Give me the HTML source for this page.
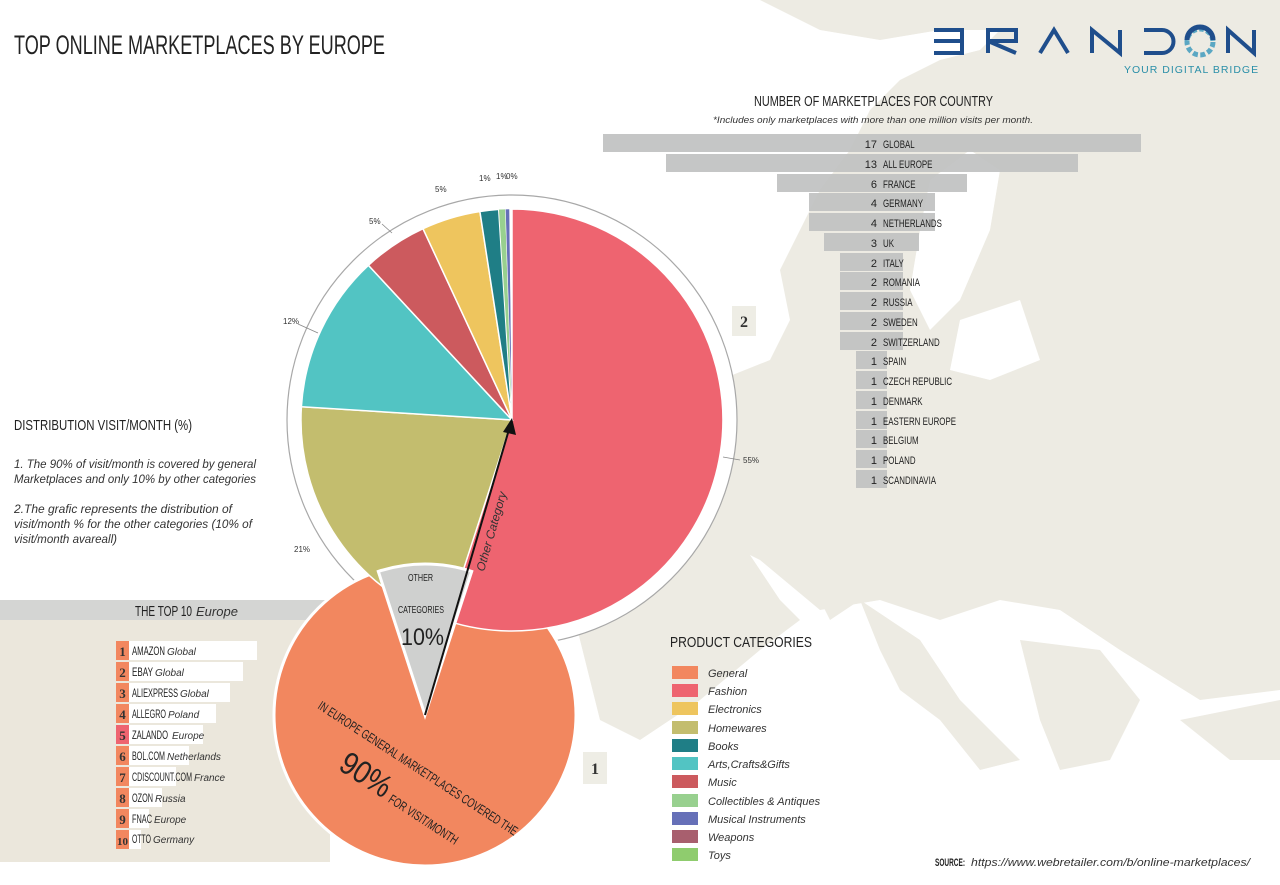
<!DOCTYPE html>
<html><head><meta charset="utf-8"><style>
html,body{margin:0;padding:0;background:#fff}
svg{display:block}
.h{font-family:"Liberation Sans Narrow","Liberation Sans",sans-serif;fill:#222}
.i{font-family:"Liberation Sans",sans-serif;font-style:italic;fill:#333}
.s{font-family:"Liberation Sans",sans-serif;fill:#333}
.r{font-family:"Liberation Serif",serif;font-weight:bold;fill:#333}
</style></head><body>
<svg width="1280" height="885" viewBox="0 0 1280 885" xmlns="http://www.w3.org/2000/svg">
<rect width="1280" height="885" fill="#fff"/>
<g fill="#edebe3">
<polygon points="760,0 1280,0 1280,690 1200,700 1120,650 1060,610 1000,600 940,620 880,600 820,610 760,560 720,540 690,480 650,440 690,420 720,380 770,360 790,320 780,270 800,230 820,190 850,150 870,110 900,80 940,60 980,50 1000,30 940,30 880,40 820,30"/>
<polygon points="560,470 600,440 650,450 700,480 740,540 780,600 800,620 760,650 700,700 640,740 600,720 580,640 560,560"/>
<polygon points="860,600 920,640 960,700 1000,740 1020,760 980,770 940,720 900,690 880,650"/>
<polygon points="1020,640 1100,650 1140,700 1110,760 1060,770 1040,720"/>
<polygon points="1180,720 1280,700 1280,760 1230,760"/>
<polygon points="820,540 850,540 860,600 830,620 810,580"/>
</g>
<g fill="#fff">
<polygon points="930,180 970,150 1000,170 990,230 960,300 930,330 910,290 920,230"/>
<polygon points="960,320 1020,300 1040,360 990,380 950,370"/>
</g>
<text x="14" y="54" class="h" font-size="27" textLength="371" lengthAdjust="spacingAndGlyphs">TOP ONLINE MARKETPLACES BY EUROPE</text>
<g fill="none" stroke="#1f4e8c" stroke-width="4">
<path d="M934,30 h28 v11 h-28 M962,41 v12 h-28"/>
<path d="M988,53 V30 h28 v11 h-28 l28,12"/>
<path d="M1040,53 L1054,30 L1068,53"/>
<path d="M1092,53 V30 L1120,53 V30"/>
<path d="M1144,30 h18 a11.5 11.5 0 0 1 0 23 h-18"/>
<path d="M1228,53 V30 L1254,53 V30"/>
</g>
<circle cx="1200" cy="42" r="13" fill="none" stroke="#5aa7c3" stroke-width="5" stroke-dasharray="5 2.5"/>
<path d="M1187,40 a13 13 0 0 1 26 0" fill="none" stroke="#1f4e8c" stroke-width="5"/>
<text x="1124" y="73" font-family="Liberation Sans,sans-serif" font-size="10.5" fill="#2a8fa8" letter-spacing="1">YOUR DIGITAL BRIDGE</text>
<text x="754" y="106" class="h" font-size="15" textLength="239" lengthAdjust="spacingAndGlyphs">NUMBER OF MARKETPLACES FOR COUNTRY</text>
<text x="713" y="123" class="i" font-size="9.5" textLength="320" lengthAdjust="spacingAndGlyphs">*Includes only marketplaces with more than one million visits per month.</text>
<g fill="#c2c3c3" opacity="0.95">
<rect x="603" y="134" width="538" height="18"/>
<rect x="666" y="154" width="412" height="18"/>
<rect x="777" y="174" width="190" height="18"/>
<rect x="809" y="193" width="126" height="18"/>
<rect x="809" y="213" width="126" height="18"/>
<rect x="824" y="233" width="95" height="18"/>
<rect x="840" y="253" width="63" height="18"/>
<rect x="840" y="272" width="63" height="18"/>
<rect x="840" y="292" width="63" height="18"/>
<rect x="840" y="312" width="63" height="18"/>
<rect x="840" y="332" width="63" height="18"/>
<rect x="856" y="351" width="31" height="18"/>
<rect x="856" y="371" width="31" height="18"/>
<rect x="856" y="391" width="31" height="18"/>
<rect x="856" y="411" width="31" height="18"/>
<rect x="856" y="430" width="31" height="18"/>
<rect x="856" y="450" width="31" height="18"/>
<rect x="856" y="470" width="31" height="18"/>
</g>
<g class="h" font-size="11" text-anchor="end">
<text x="877" y="148">17</text><text x="877" y="168">13</text><text x="877" y="188">6</text><text x="877" y="207">4</text><text x="877" y="227">4</text><text x="877" y="247">3</text><text x="877" y="267">2</text><text x="877" y="286">2</text><text x="877" y="306">2</text><text x="877" y="326">2</text><text x="877" y="346">2</text><text x="877" y="365">1</text><text x="877" y="385">1</text><text x="877" y="405">1</text><text x="877" y="425">1</text><text x="877" y="444">1</text><text x="877" y="464">1</text><text x="877" y="484">1</text>
</g>
<g class="h" font-size="11" transform="translate(883,0) scale(0.72,1)">
<text x="0" y="148">GLOBAL</text><text x="0" y="168">ALL EUROPE</text><text x="0" y="188">FRANCE</text><text x="0" y="207">GERMANY</text><text x="0" y="227">NETHERLANDS</text><text x="0" y="247">UK</text><text x="0" y="267">ITALY</text><text x="0" y="286">ROMANIA</text><text x="0" y="306">RUSSIA</text><text x="0" y="326">SWEDEN</text><text x="0" y="346">SWITZERLAND</text><text x="0" y="365">SPAIN</text><text x="0" y="385">CZECH REPUBLIC</text><text x="0" y="405">DENMARK</text><text x="0" y="425">EASTERN EUROPE</text><text x="0" y="444">BELGIUM</text><text x="0" y="464">POLAND</text><text x="0" y="484">SCANDINAVIA</text>
</g>
<rect x="732" y="306" width="24" height="30" fill="#eeede5"/>
<text x="744" y="327" class="r" font-size="16" text-anchor="middle">2</text>
<rect x="583" y="752" width="24" height="32" fill="#eeede5"/>
<text x="595" y="774" class="r" font-size="16" text-anchor="middle">1</text>
<text x="14" y="430" class="h" font-size="15" textLength="178" lengthAdjust="spacingAndGlyphs">DISTRIBUTION VISIT/MONTH (%)</text>
<g class="i" font-size="11.5" font-style="italic">
<text x="14" y="468" textLength="242" lengthAdjust="spacingAndGlyphs">1. The 90% of visit/month is covered by general</text>
<text x="14" y="483" textLength="242" lengthAdjust="spacingAndGlyphs">Marketplaces and only 10% by other categories</text>
<text x="14" y="513" textLength="218" lengthAdjust="spacingAndGlyphs">2.The grafic represents the distribution of</text>
<text x="14" y="528" textLength="238" lengthAdjust="spacingAndGlyphs">visit/month % for the other categories (10% of</text>
<text x="14" y="543" textLength="103" lengthAdjust="spacingAndGlyphs">visit/month avareall)</text>
</g>
<rect x="0" y="620" width="330" height="242" fill="#ebe7dc"/>
<rect x="0" y="600" width="330" height="20" fill="#d4d5d3"/>
<text x="135" y="616" class="h" font-size="15" textLength="57" lengthAdjust="spacingAndGlyphs">THE TOP 10</text>
<text x="196" y="616" class="i" font-size="13">Europe</text>
<g fill="#fff">
<rect x="129" y="641" width="128" height="19"/><rect x="129" y="662" width="114" height="19"/>
<rect x="129" y="683" width="101" height="19"/><rect x="129" y="704" width="87" height="19"/>
<rect x="129" y="725" width="74" height="19"/><rect x="129" y="746" width="60" height="19"/>
<rect x="129" y="767" width="47" height="19"/><rect x="129" y="788" width="33" height="19"/>
<rect x="129" y="809" width="20" height="19"/><rect x="129" y="830" width="12" height="19"/>
</g>
<g fill="#f2875f">
<rect x="116" y="641" width="13" height="19"/><rect x="116" y="662" width="13" height="19"/>
<rect x="116" y="683" width="13" height="19"/><rect x="116" y="704" width="13" height="19"/>
<rect x="116" y="725" width="13" height="19" fill="#ee6470"/><rect x="116" y="746" width="13" height="19"/>
<rect x="116" y="767" width="13" height="19"/><rect x="116" y="788" width="13" height="19"/>
<rect x="116" y="809" width="13" height="19"/><rect x="116" y="830" width="13" height="19"/>
</g>
<g class="r" font-size="13" text-anchor="middle">
<text x="122.5" y="656">1</text><text x="122.5" y="677">2</text><text x="122.5" y="698">3</text><text x="122.5" y="719">4</text><text x="122.5" y="740">5</text><text x="122.5" y="761">6</text><text x="122.5" y="782">7</text><text x="122.5" y="803">8</text><text x="122.5" y="824">9</text><text x="122.5" y="845" font-size="11">10</text>
</g>
<g class="h" font-size="11.5">
<text x="132" y="655" textLength="33" lengthAdjust="spacingAndGlyphs">AMAZON</text><text x="167" y="655" class="i" font-size="10">Global</text>
<text x="132" y="676" textLength="21" lengthAdjust="spacingAndGlyphs">EBAY</text><text x="155" y="676" class="i" font-size="10">Global</text>
<text x="132" y="697" textLength="46" lengthAdjust="spacingAndGlyphs">ALIEXPRESS</text><text x="180" y="697" class="i" font-size="10">Global</text>
<text x="132" y="718" textLength="34" lengthAdjust="spacingAndGlyphs">ALLEGRO</text><text x="168" y="718" class="i" font-size="10">Poland</text>
<text x="132" y="739" textLength="36" lengthAdjust="spacingAndGlyphs">ZALANDO</text><text x="172" y="739" class="i" font-size="10">Europe</text>
<text x="132" y="760" textLength="33" lengthAdjust="spacingAndGlyphs">BOL.COM</text><text x="167" y="760" class="i" font-size="10">Netherlands</text>
<text x="132" y="781" textLength="60" lengthAdjust="spacingAndGlyphs">CDISCOUNT.COM</text><text x="194" y="781" class="i" font-size="10">France</text>
<text x="132" y="802" textLength="21" lengthAdjust="spacingAndGlyphs">OZON</text><text x="155" y="802" class="i" font-size="10">Russia</text>
<text x="132" y="823" textLength="20" lengthAdjust="spacingAndGlyphs">FNAC</text><text x="154" y="823" class="i" font-size="10">Europe</text>
<text x="132" y="843" textLength="19" lengthAdjust="spacingAndGlyphs">OTTO</text><text x="153" y="843" class="i" font-size="10">Germany</text>
</g>
<circle cx="512" cy="420" r="225" fill="#fff" stroke="#a8a8a8" stroke-width="1.2"/>
<circle cx="425" cy="715" r="151" fill="#f2875f" stroke="#fff" stroke-width="3"/>
<g stroke="#fff" stroke-width="1.5">
<path d="M512,420 L512,209 A211,211 0 1 1 446.8,620.7 Z" fill="#ee6470"/>
<path d="M512,420 L446.8,620.7 A211,211 0 0 1 301.4,406.7 Z" fill="#c3bd6e"/>
<path d="M512,420 L301.4,406.7 A211,211 0 0 1 368.4,265.3 Z" fill="#52c4c3"/>
<path d="M512,420 L368.4,265.3 A211,211 0 0 1 423.0,228.7 Z" fill="#cc5a5e"/>
<path d="M512,420 L423.0,228.7 A211,211 0 0 1 479.9,211.5 Z" fill="#eec55e"/>
<path d="M512,420 L479.9,211.5 A211,211 0 0 1 498.7,209.4 Z" fill="#1f7e86"/>
<path d="M512,420 L498.7,209.4 A211,211 0 0 1 505.4,209.1 Z" fill="#98d08f" stroke-width="0.5"/>
<path d="M512,420 L505.4,209.1 A211,211 0 0 1 509.5,209 Z" fill="#6670b8" stroke-width="0.5"/>
</g>
<path d="M425,715 L378.3,571.4 A151,151 0 0 1 471.7,571.4 Z" fill="#cfd0cf" stroke="#fff" stroke-width="3"/>
<line x1="425" y1="715" x2="510" y2="426" stroke="#111" stroke-width="2"/>
<polygon points="512,418 503,432 516,435" fill="#111"/>
<text x="408" y="581" class="h" font-size="10" textLength="25" lengthAdjust="spacingAndGlyphs">OTHER</text>
<text x="398" y="613" class="h" font-size="10" textLength="46" lengthAdjust="spacingAndGlyphs">CATEGORIES</text>
<text x="401" y="645" class="h" font-size="24" textLength="43" lengthAdjust="spacingAndGlyphs">10%</text>
<text transform="translate(484,572) rotate(-74)" class="i" font-size="12" fill="#222">Other Category</text>
<g transform="translate(317,708) rotate(33)">
<text x="0" y="0" class="h" font-size="13" textLength="235" lengthAdjust="spacingAndGlyphs">IN EUROPE GENERAL MARKETPLACES COVERED THE</text>
<text x="50" y="40" class="h" font-size="32" textLength="55" lengthAdjust="spacingAndGlyphs">90%</text>
<text x="110" y="40" class="h" font-size="13" textLength="80" lengthAdjust="spacingAndGlyphs">FOR VISIT/MONTH</text>
</g>
<g class="s" font-size="8" fill="#444">
<text x="283" y="324">12%</text><text x="369" y="224">5%</text><text x="435" y="192">5%</text>
<text x="479" y="181">1%</text><text x="496" y="179">1%</text><text x="506" y="179">0%</text>
<text x="294" y="552">21%</text><text x="743" y="463">55%</text>
</g>
<g stroke="#888" stroke-width="0.8">
<line x1="298" y1="324" x2="318" y2="333"/><line x1="382" y1="224" x2="392" y2="233"/>
<line x1="723" y1="457" x2="740" y2="460"/>
</g>
<text x="670" y="647" class="h" font-size="15" textLength="142" lengthAdjust="spacingAndGlyphs">PRODUCT CATEGORIES</text>
<g>
<rect x="672" y="666" width="26" height="13" fill="#f2875f"/>
<rect x="672" y="684" width="26" height="13" fill="#ee6470"/>
<rect x="672" y="702" width="26" height="13" fill="#eec55e"/>
<rect x="672" y="721" width="26" height="13" fill="#c3bd6e"/>
<rect x="672" y="739" width="26" height="13" fill="#1f7e86"/>
<rect x="672" y="757" width="26" height="13" fill="#52c4c3"/>
<rect x="672" y="775" width="26" height="13" fill="#cc5a5e"/>
<rect x="672" y="794" width="26" height="13" fill="#98d08f"/>
<rect x="672" y="812" width="26" height="13" fill="#6670b8"/>
<rect x="672" y="830" width="26" height="13" fill="#a85f6e"/>
<rect x="672" y="848" width="26" height="13" fill="#8fcc6e"/>
</g>
<g class="i" font-size="11">
<text x="708" y="677">General</text><text x="708" y="695">Fashion</text><text x="708" y="713">Electronics</text>
<text x="708" y="732">Homewares</text><text x="708" y="750">Books</text><text x="708" y="768">Arts,Crafts&amp;Gifts</text>
<text x="708" y="786">Music</text><text x="708" y="805">Collectibles &amp; Antiques</text><text x="708" y="823">Musical Instruments</text>
<text x="708" y="841">Weapons</text><text x="708" y="859">Toys</text>
</g>
<text x="935" y="866" class="h" font-size="11" font-weight="bold" textLength="30" lengthAdjust="spacingAndGlyphs">SOURCE:</text>
<text x="971" y="866" class="i" font-size="11" textLength="279" lengthAdjust="spacingAndGlyphs">https://www.webretailer.com/b/online-marketplaces/</text>
</svg>
</body></html>
